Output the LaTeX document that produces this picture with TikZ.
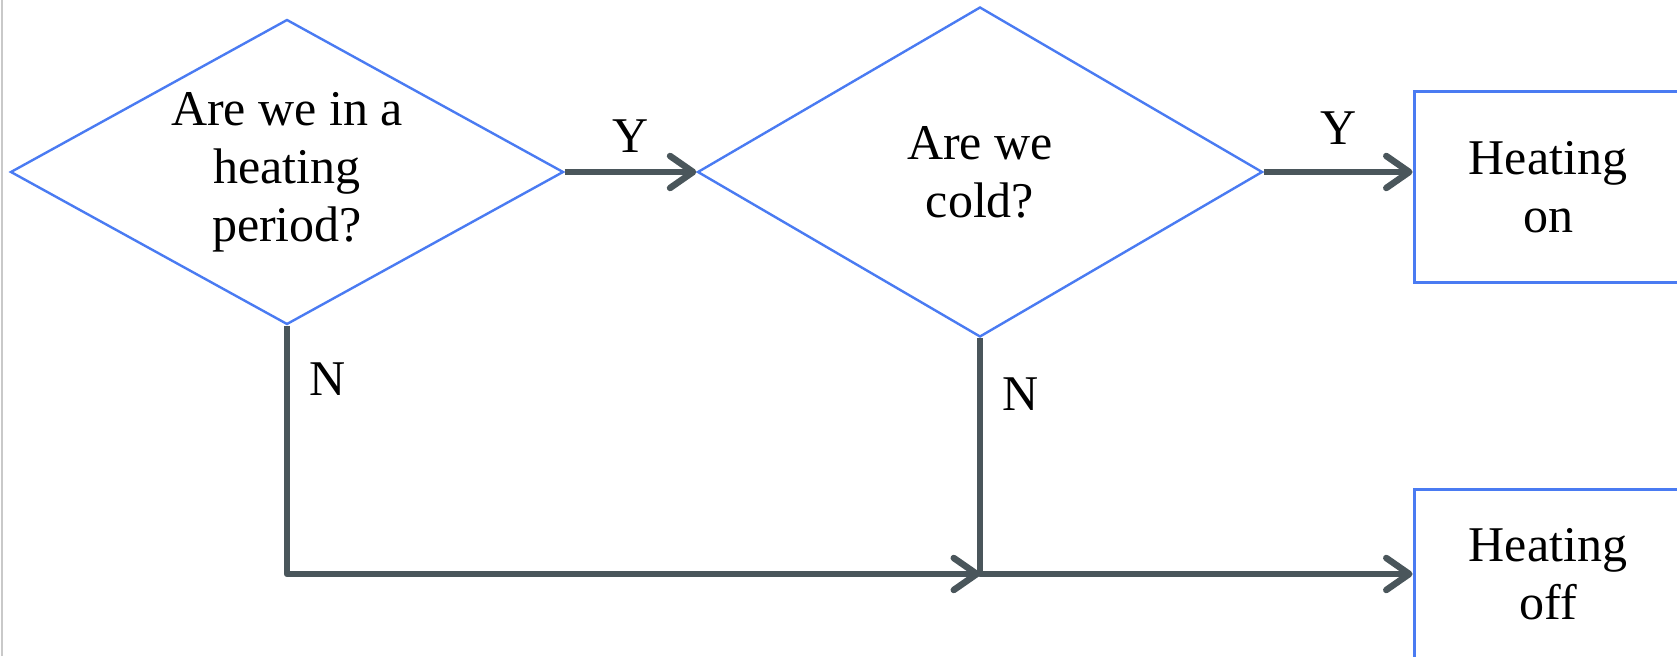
\documentclass[tikz,border=0pt]{standalone}
\usepackage{fontspec}
\setmainfont{Liberation Serif}
\usetikzlibrary{arrows.meta,positioning,shapes.geometric}
\definecolor{ShapeBlue}{HTML}{4A7BF2}
\definecolor{FlowInk}{HTML}{4A565B}
\definecolor{EdgeGrey}{HTML}{C9C9C9}

\begin{document}
\begin{tikzpicture}[
  x=1pt,y=1pt,
  font=\fontsize{50}{58}\selectfont,
  flow/.style={-{Straight Barb[length=23pt,width=32pt,round]},draw=FlowInk,
    line width=6.5pt,line join=round},
  query/.style={diamond,draw=ShapeBlue,line width=2.4pt,align=center,
    inner sep=0pt,shape aspect=1.8},
  action/.style={rectangle,draw=ShapeBlue,line width=3pt,align=center,
    minimum width=268pt},
  lbl/.style={inner sep=0pt}
]
  \useasboundingbox (0,0) rectangle (1677,656);
  \draw[EdgeGrey,line width=2pt] (2,0) -- (2,656);

  \node[query,minimum width=553pt,minimum height=305pt] (period) at (287,484)
    {Are we in a\\heating\\period?};
  \node[query,minimum width=565pt,minimum height=330pt] (cold) at (980,484)
    {Are we\\cold?};
  \node[action,minimum height=191pt] (on) at (1548,468.5) {Heating\\on};
  \node[action,minimum height=170pt] (off) at (1548,82) {Heating\\off};

  \coordinate (merge) at (cold.south |- off.west);

  \draw[flow] (period.east) -- node[lbl,above=16pt] (yes1) {Y} (cold.west);
  \draw[flow] (cold.east) -- node[lbl,above=24pt] (yes2) {Y}
    (cold.east -| on.west);
  \draw[flow] (period.south) |- (merge);
  \draw[flow] (cold.south) -- (merge) -- (off.west);

  \node[lbl,below right=37pt and 22pt of period.south] (no1) {N};
  \node[lbl,below right=39pt and 22pt of cold.south] (no2) {N};
\end{tikzpicture}
\end{document}
